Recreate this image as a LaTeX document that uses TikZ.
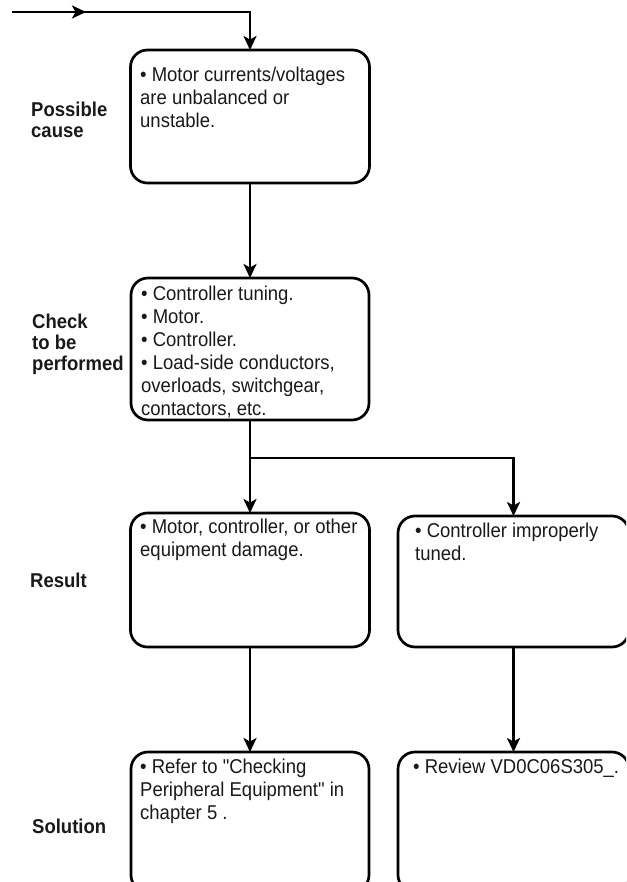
\documentclass[tikz,border=0pt]{standalone}
\usepackage{fontspec}
\usetikzlibrary{arrows.meta}
\newfontfamily\bxf[FakeStretch=0.925]{Liberation Sans}
\newcommand{\bxt}[1]{\parbox[t]{240pt}{\raggedright\bxf\fontsize{20}{23}\selectfont #1}}
\newcommand{\lbt}[1]{\parbox[t]{120pt}{\raggedright\bxf\bfseries\fontsize{20}{21}\selectfont #1}}
\tikzset{
  box/.style={draw=black, line width=2.7pt, rounded corners=17pt, inner sep=0pt, outer sep=0pt, rectangle},
  ln/.style={draw=black, line width=2.7pt},
  arr/.style={ln, -{Stealth[length=14pt,width=13pt,inset=3.5pt]}},
  txt/.style={anchor=base west, inner sep=0pt, text=black!90},
}
\begin{document}
\begin{tikzpicture}[x=1pt,y=-1pt]
\useasboundingbox (0,0) rectangle (626,882);
\clip (0,0) rectangle (626,882);
% boxes
\node[box, minimum width=239pt, minimum height=133pt] (b1) at (250,116.5) {};
\node[box, minimum width=238pt, minimum height=142pt] (b2) at (250,349) {};
\node[box, minimum width=239pt, minimum height=134pt] (b3l) at (250,580) {};
\node[box, minimum width=231pt, minimum height=131pt] (b3r) at (513.5,581.5) {};
\node[box, minimum width=238pt, minimum height=140pt] (b4l) at (250,822) {};
\node[box, minimum width=231pt, minimum height=140pt] (b4r) at (513.5,822) {};
% box texts
\node[txt] (t1) at (140,82) {\bxt{• Motor currents/voltages\\are unbalanced or\\unstable.}};
\node[txt] (t2) at (141,300) {\bxt{• Controller tuning.\\• Motor.\\• Controller.\\• Load-side conductors,\\overloads, switchgear,\\contactors, etc.}};
\node[txt] (t3l) at (140,533) {\bxt{• Motor, controller, or other\\equipment damage.}};
\node[txt] (t3r) at (415,537) {\bxt{• Controller improperly\\tuned.}};
\node[txt] (t4l) at (140,773) {\bxt{• Refer to "Checking\\Peripheral Equipment" in\\chapter 5 .}};
\node[txt] (t4r) at (413,773) {\bxt{• Review VD0C06S305\_.}};
% row labels
\node[txt] (l1) at (31,117) {\lbt{Possible\\cause}};
\node[txt] (l2) at (32,328) {\lbt{Check\\to be\\performed}};
\node[txt] (l3) at (30,587) {\lbt{Result}};
\node[txt] (l4) at (32,833) {\lbt{Solution}};
% connectors
\coordinate (s) at (12,12);
\coordinate (m) at (86,12);
\coordinate (j) at (250,458);
\draw[arr] (s) -| (b1.north);
\draw[arr] (s) -- (m);
\draw[arr] (b1.south) -- (b2.north);
\draw[ln] (b2.south) -- (j);
\draw[arr] (j) -- (b3l.north);
\draw[arr] (j) -| (b3r.north);
\draw[arr] (b3l.south) -- (b4l.north);
\draw[arr] (b3r.south) -- (b4r.north);
\end{tikzpicture}
\end{document}
